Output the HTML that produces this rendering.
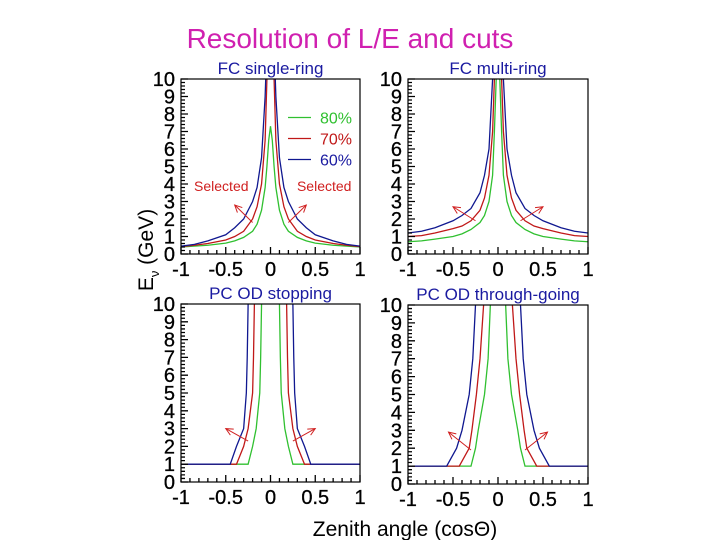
<!DOCTYPE html>
<html><head><meta charset="utf-8"><style>
html,body{margin:0;padding:0;background:#fff;}
svg{display:block;font-family:"Liberation Sans",Arial,sans-serif;}
</style></head><body>
<svg id="chart" width="720" height="540" viewBox="0 0 720 540">
<text x="350" y="48" font-size="28" fill="#d020b0" text-anchor="middle">Resolution of L/E and cuts</text>
<text x="405" y="536" font-size="21" fill="#000" text-anchor="middle">Zenith angle (cosΘ)</text>
<text transform="translate(153,250) rotate(-90)" font-size="21" fill="#000" text-anchor="middle">E<tspan font-size="13" dy="6">ν</tspan><tspan dy="-6"> (GeV)</tspan></text>
<g id="plots"></g>
</svg>
<script>
// Top panels: E vs |cos|, symmetric
const topCos = [0, 0.02, 0.04, 0.06, 0.1, 0.15, 0.2, 0.3, 0.4, 0.5, 0.7, 0.85, 1.0];
const srGreen = [7.3, 6.5, 5.0, 3.8, 2.5, 1.7, 1.3, 0.95, 0.75, 0.62, 0.5, 0.45, 0.4];
const srRed   = [12, 12, 10, 6.5, 4.0, 2.7, 2.0, 1.3, 1.0, 0.8, 0.6, 0.5, 0.42];
const srBlue  = [12, 12, 12, 9.0, 5.5, 3.8, 3.0, 2.0, 1.5, 1.1, 0.75, 0.55, 0.45];
const mrGreen = [12, 10, 7.0, 4.5, 3.0, 2.2, 1.8, 1.4, 1.15, 1.0, 0.85, 0.75, 0.7];
const mrRed   = [12, 12, 10, 7.0, 4.5, 3.2, 2.5, 1.9, 1.6, 1.45, 1.2, 1.05, 1.0];
const mrBlue  = [12, 12, 12, 10, 6.0, 4.5, 3.5, 2.6, 2.2, 1.9, 1.5, 1.3, 1.2];
// Bottom panels: |cos| width vs E levels
const botE = [10, 7, 5, 3, 2, 1];
const stGreen = [0.1, 0.11, 0.12, 0.16, 0.2, 0.25];
const stRed   = [0.18, 0.19, 0.2, 0.25, 0.3, 0.38];
const stBlue  = [0.25, 0.26, 0.27, 0.3, 0.38, 0.45];
const tgGreen = [0.085, 0.11, 0.15, 0.22, 0.25, 0.3];
const tgRed   = [0.16, 0.2, 0.24, 0.29, 0.32, 0.43];
const tgBlue  = [0.25, 0.28, 0.32, 0.4, 0.46, 0.57];
const flatE = 1;
const xTicks = ["-1","-0.5","0","0.5","1"];
const yTicks = ["0","1","2","3","4","5","6","7","8","9","10"];
const colors = {g:"#30c030", r:"#c01818", b:"#101890"};

const NS="http://www.w3.org/2000/svg";
const root=document.getElementById('plots');
function mk(tag,attrs,parent){const e=document.createElementNS(NS,tag);for(const k in attrs)e.setAttribute(k,attrs[k]);(parent||root).appendChild(e);return e;}

const panels=[
 {name:"fc-single-ring",title:"FC single-ring",L:181,R:360,T:79,B:254,type:"top",series:[srGreen,srRed,srBlue]},
 {name:"fc-multi-ring",title:"FC multi-ring",L:408,R:588,T:79,B:254,type:"top",series:[mrGreen,mrRed,mrBlue]},
 {name:"pc-od-stopping",title:"PC OD stopping",L:181,R:360,T:304,B:482,type:"bot",series:[stGreen,stRed,stBlue]},
 {name:"pc-od-through-going",title:"PC OD through-going",L:408,R:588,T:305,B:484,type:"bot",series:[tgGreen,tgRed,tgBlue]}
];
const cols=[colors.g,colors.r,colors.b];
const sname=["series-80","series-70","series-60"];

panels.forEach(p=>{
 const g=mk('g',{});
 
 
 const xs=v=>p.L+(v+1)/2*(p.R-p.L);
 const ys=v=>p.B-v/10*(p.B-p.T);
 const cp=mk('clipPath',{id:'c'+p.name},g);
 mk('rect',{x:p.L,y:p.T,width:p.R-p.L,height:p.B-p.T},cp);
 const t=mk('text',{x:(p.L+p.R)/2,y:p.T-5,'font-size':17,fill:'#1a1aa0','text-anchor':'middle'},g);
 t.textContent=p.title;
 
 
 const sg=mk('g',{'clip-path':'url(#c'+p.name+')'},g);
 p.series.forEach((arr,i)=>{
  let pts=[];
  if(p.type==="top"){
   const half=topCos.map((c,j)=>[c,arr[j]]);
   const left=half.slice().reverse().map(([c,e])=>[-c,e]);
   if(arr[0]>=10){
    const l=left.map(([c,e])=>xs(c)+','+ys(e)).join(' ');
    const r=half.map(([c,e])=>xs(c)+','+ys(e)).join(' ');
    const a=mk('polyline',{points:l,fill:'none',stroke:cols[i],'stroke-width':1.3},sg);
    
    
    const b=mk('polyline',{points:r,fill:'none',stroke:cols[i],'stroke-width':1.3},sg);
    
    
    return;
   }
   pts=left.concat(half.slice(1));
   const a=mk('polyline',{points:pts.map(([c,e])=>xs(c)+','+ys(e)).join(' '),fill:'none',stroke:cols[i],'stroke-width':1.3},sg);
   
   
  } else {
   const l=[[-1,flatE]].concat(botE.slice().reverse().map((e,j)=>[-arr[botE.length-1-j],e]));
   const r=botE.map((e,j)=>[arr[j],e]).concat([[1,flatE]]);
   [l,r].forEach((br,k)=>{
    const a=mk('polyline',{points:br.map(([c,e])=>xs(c)+','+ys(e)).join(' '),fill:'none',stroke:cols[i],'stroke-width':1.3},sg);
    
    
   });
  }
 });
 const fr=mk('rect',{x:p.L,y:p.T,width:p.R-p.L,height:p.B-p.T,fill:'none',stroke:'#000','stroke-width':1.2},g);
 
 
 let d='';
 for(let v=0;v<=10.001;v+=0.2){const y=ys(v);const big=Math.abs(v-Math.round(v))<0.01;d+=`M${p.L},${y}h${big?7:4}`;}
 for(let v=-1;v<=1.001;v+=0.1){const x=xs(v);const big=Math.abs(v*2-Math.round(v*2))<0.01;d+=`M${x},${p.B}v-${big?7:4}`;}
 mk('path',{d:d,stroke:'#000','stroke-width':1.3,fill:'none'},g);
 yTicks.forEach((s,j)=>{const tt=mk('text',{x:p.L-6,y:ys(+s)+7,'font-size':20,'text-anchor':'end',stroke:'#000','stroke-width':0.3},g);tt.textContent=s;
  });
 xTicks.forEach(s=>{const tt=mk('text',{x:xs(+s),y:p.B+22,'font-size':20,'text-anchor':'middle',stroke:'#000','stroke-width':0.3},g);tt.textContent=s;
  });
 const arr=(x1,y1,x2,y2)=>{mk('line',{x1,y1,x2,y2,stroke:'#d02020','stroke-width':1},g);
  const a=Math.atan2(y2-y1,x2-x1);const h=8;
  mk('path',{d:`M${x2-h*Math.cos(a-0.45)},${y2-h*Math.sin(a-0.45)}L${x2},${y2}L${x2-h*Math.cos(a+0.45)},${y2-h*Math.sin(a+0.45)}`,fill:'none',stroke:'#d02020','stroke-width':1},g);};
 const ar=p.type==="top"?(p.name==="fc-single-ring"?[[-0.2,1.8,-0.4,2.8],[0.2,1.8,0.4,2.8]]:[[-0.25,1.9,-0.5,2.7],[0.25,1.9,0.5,2.7]])
   :(p.name==="pc-od-stopping"?[[-0.25,2.3,-0.5,3.0],[0.25,2.3,0.5,3.0]]:[[-0.3,1.9,-0.55,2.9],[0.3,1.9,0.55,2.9]]);
 ar.forEach(a=>arr(xs(a[0]),ys(a[1]),xs(a[2]),ys(a[3])));
 if(p.name==="fc-single-ring"){
  [["Selected",-0.55],["Selected",0.6]].forEach(([s,c])=>{const tt=mk('text',{x:xs(c),y:ys(3.6),'font-size':14,fill:'#d02020','text-anchor':'middle'},g);tt.textContent=s;
   });
  const lg=mk('g',{},g);
  
  
  [["80%",colors.g,7.8,"#30c030"],["70%",colors.r,6.6,"#c01818"],["60%",colors.b,5.4,"#1a1aa0"]].forEach(([s,c,v,tc])=>{
   const e=mk('g',{},lg);
   
   
   mk('line',{x1:288,x2:311,y1:ys(v),y2:ys(v),stroke:c,'stroke-width':1.2},e);
   const tt=mk('text',{x:320,y:ys(v)+6,'font-size':16,fill:tc},e);tt.textContent=s;});
 }
});
</script>
</body></html>
